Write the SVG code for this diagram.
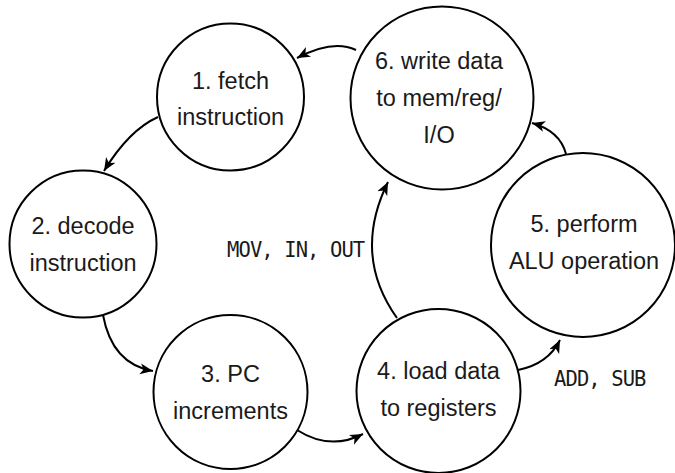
<svg xmlns="http://www.w3.org/2000/svg" width="675" height="473" viewBox="0 0 675 473">
  <defs>
    <marker id="arrow" markerUnits="userSpaceOnUse" markerWidth="14" markerHeight="12" viewBox="0 0 14 12" refX="13" refY="6" orient="auto">
      <path d="M0,0.5 L13,6 L0,11.5 L3.5,6 Z" fill="#000"/>
    </marker>
    <style>
      .node circle { fill: #fff; stroke: #000; stroke-width: 2; }
      .node text { font-family: "Liberation Sans", Arial, Helvetica, sans-serif; font-size: 23.5px; fill: #1a1a1a; text-anchor: middle; }
      .edges path { fill: none; stroke: #000; stroke-width: 2; marker-end: url(#arrow); }
      .label { font-family: "DejaVu Sans Mono", monospace; font-size: 20.5px; letter-spacing: -0.9px; fill: #1a1a1a; }
    </style>
  </defs>
  <rect width="675" height="473" fill="#fff"/>

  <g id="edges" class="edges">
    <path d="M356,50 Q333,39 297,58"/>
    <path d="M158,117 Q129,130 104,171"/>
    <path d="M103,315 Q112,364 153,371"/>
    <path d="M297,430 Q330,451 363,434"/>
    <path d="M518,370 Q548,364 560,340"/>
    <path d="M566,154 Q560,131 532,123"/>
    <path d="M397,318 Q352,255 388,182"/>
  </g>

  <text class="label" x="227" y="257">MOV, IN, OUT</text>
  <text class="label" x="554" y="386">ADD, SUB</text>

  <g id="node1" class="node">
    <circle cx="230.5" cy="97" r="73.5"/>
    <text x="230.5" y="89">1. fetch</text>
    <text x="230.5" y="125">instruction</text>
  </g>
  <g id="node2" class="node">
    <circle cx="83" cy="244" r="73.5"/>
    <text x="83" y="234">2. decode</text>
    <text x="83" y="271">instruction</text>
  </g>
  <g id="node3" class="node">
    <circle cx="230.5" cy="392" r="77"/>
    <text x="230.5" y="382">3. PC</text>
    <text x="230.5" y="419">increments</text>
  </g>
  <g id="node4" class="node">
    <circle cx="438.5" cy="391" r="82"/>
    <text x="438.5" y="379">4. load data</text>
    <text x="438.5" y="416">to registers</text>
  </g>
  <g id="node5" class="node">
    <circle cx="583" cy="245" r="92"/>
    <text x="584" y="232">5. perform</text>
    <text x="584" y="269">ALU operation</text>
  </g>
  <g id="node6" class="node">
    <circle cx="442" cy="98" r="91.5"/>
    <text x="439" y="69">6. write data</text>
    <text x="439" y="106">to mem/reg/</text>
    <text x="439" y="143">I/O</text>
  </g>
</svg>
